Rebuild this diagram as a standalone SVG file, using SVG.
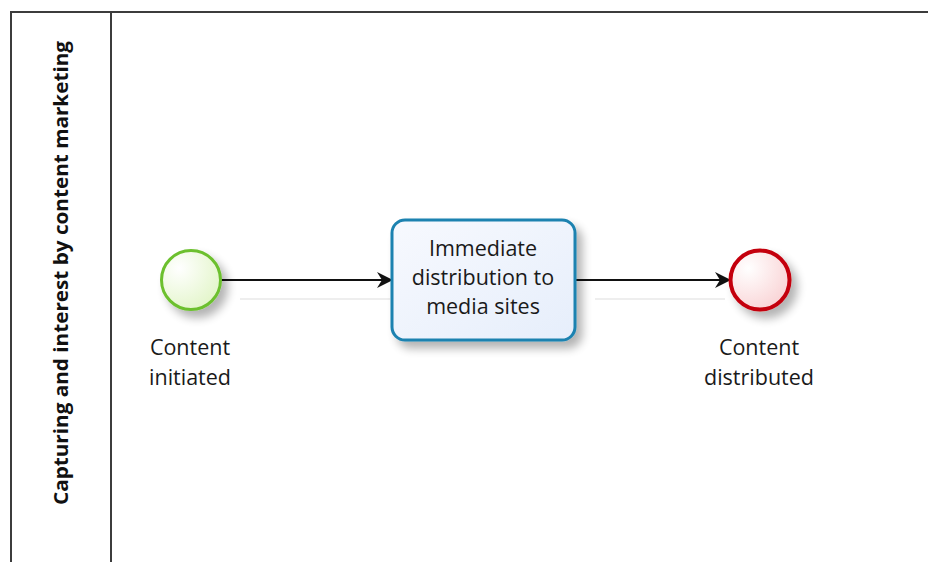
<svg xmlns="http://www.w3.org/2000/svg" width="928" height="562" viewBox="0 0 928 562">
  <defs>
    <style>
      .lane { fill: none; stroke: #3c3c3c; stroke-width: 2; }
      .lbl { font-family: "Open Sans", "DejaVu Sans", sans-serif; font-size: 21.5px; fill: #1a1a1a; text-anchor: middle; }
      .pool { font-family: "Open Sans", "DejaVu Sans", sans-serif; font-size: 19px; font-weight: bold; fill: #111; text-anchor: middle; }
      .flow { fill: none; stroke: #111; stroke-width: 2; }
      .flowShadow { fill: none; stroke: #eeeeee; stroke-width: 2; }
    </style>
    <radialGradient id="gStart" cx="0.3" cy="0.3" r="0.8">
      <stop offset="0" stop-color="#ffffff"/>
      <stop offset="1" stop-color="#e2f5c8"/>
    </radialGradient>
    <radialGradient id="gEnd" cx="0.3" cy="0.3" r="0.8">
      <stop offset="0" stop-color="#ffffff"/>
      <stop offset="1" stop-color="#f9d2d4"/>
    </radialGradient>
    <linearGradient id="gTask" x1="0" y1="0" x2="1" y2="1">
      <stop offset="0" stop-color="#f7f9fe"/>
      <stop offset="1" stop-color="#e6eefb"/>
    </linearGradient>
    <filter id="shadow" x="-30%" y="-30%" width="170%" height="170%">
      <feGaussianBlur in="SourceAlpha" stdDeviation="5"/>
      <feOffset dx="6" dy="7" result="b"/>
      <feComponentTransfer><feFuncA type="linear" slope="0.3"/></feComponentTransfer>
      <feMerge><feMergeNode/><feMergeNode in="SourceGraphic"/></feMerge>
    </filter>
    <marker id="arrow" markerWidth="20" markerHeight="20" refX="17" refY="10" orient="auto" markerUnits="userSpaceOnUse">
      <path d="M2,2 L18,10 L2,18 L7,10 Z" fill="#111"/>
    </marker>
  </defs>

  <!-- pool and lane frame -->
  <g id="pool">
    <line class="lane" x1="11" y1="12" x2="928" y2="12"/>
    <line class="lane" x1="11" y1="11" x2="11" y2="562"/>
    <line class="lane" x1="111" y1="11" x2="111" y2="562"/>
    <text class="pool" transform="translate(68,273) rotate(-90)" textLength="464" lengthAdjust="spacingAndGlyphs">Capturing and interest by content marketing</text>
  </g>

  <!-- sequence flows -->
  <g id="connectors">
    <line class="flowShadow" x1="240" y1="299" x2="390" y2="299"/>
    <line class="flowShadow" x1="595" y1="299" x2="725" y2="299"/>
    <line class="flow" x1="221" y1="280" x2="392" y2="280" marker-end="url(#arrow)"/>
    <line class="flow" x1="575" y1="280" x2="730" y2="280" marker-end="url(#arrow)"/>
  </g>

  <g id="start">
    <circle cx="191" cy="280" r="29.5" fill="url(#gStart)" stroke="#6cc02e" stroke-width="3" filter="url(#shadow)"/>
    <text class="lbl" x="190" y="355">Content</text>
    <text class="lbl" x="190" y="385">initiated</text>
  </g>

  <g id="task">
    <rect x="392" y="220" width="183" height="120" rx="13" fill="url(#gTask)" stroke="#1d82b0" stroke-width="3" filter="url(#shadow)"/>
    <text class="lbl" x="483" y="256">Immediate</text>
    <text class="lbl" x="483" y="285">distribution to</text>
    <text class="lbl" x="483" y="314">media sites</text>
  </g>

  <g id="end">
    <circle cx="760" cy="280" r="29.5" fill="url(#gEnd)" stroke="#c4000e" stroke-width="4" filter="url(#shadow)"/>
    <text class="lbl" x="759" y="355">Content</text>
    <text class="lbl" x="759" y="385">distributed</text>
  </g>
</svg>
